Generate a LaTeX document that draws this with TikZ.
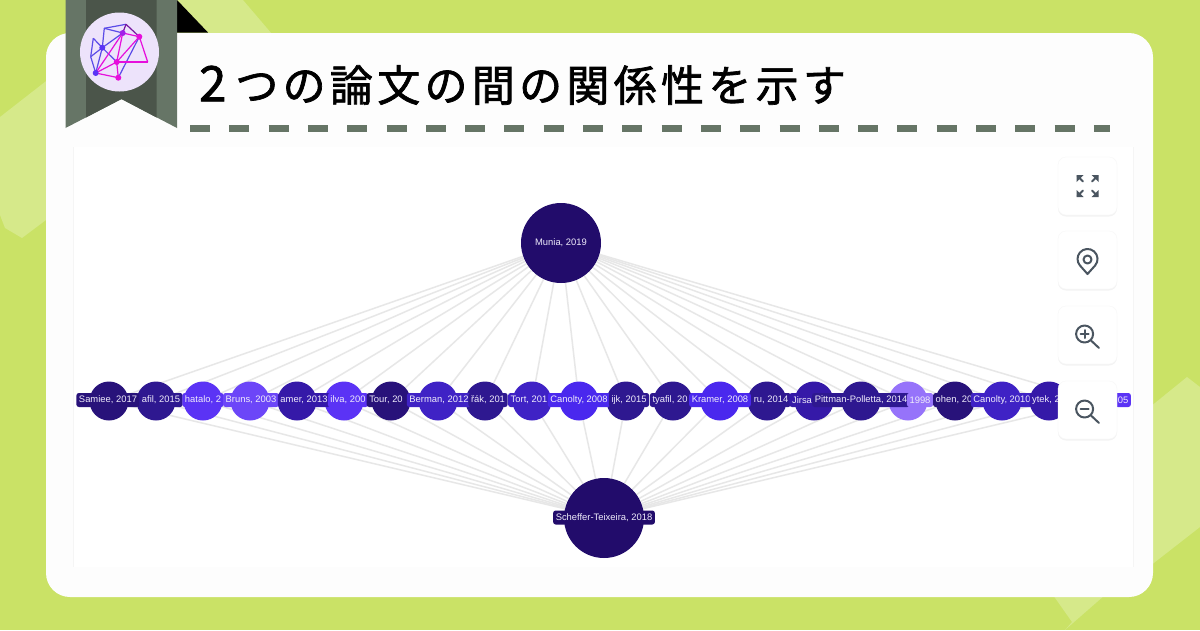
\documentclass[tikz,border=0pt]{standalone}
\usepackage{fontspec}
\setmainfont{Liberation Sans}
\newfontfamily\cjk[LetterSpace=10,FakeBold=1.6]{Noto Sans CJK JP}
\usetikzlibrary{shadows}
\definecolor{pagegreen}{HTML}{CAE266}
\definecolor{stripegreen}{HTML}{D6E98A}
\definecolor{cardwhite}{HTML}{FDFDFD}
\definecolor{ribbonout}{HTML}{667566}
\definecolor{ribbonin}{HTML}{4B554A}
\definecolor{logoback}{HTML}{EDE3FB}
\definecolor{logoblue}{HTML}{5B4BE8}
\definecolor{logopink}{HTML}{E60FDC}
\definecolor{edgegrey}{HTML}{E7E7E7}
\definecolor{icongrey}{HTML}{4A5560}
\definecolor{labelwhite}{HTML}{EFECFB}
\definecolor{vA}{HTML}{28127A}
\definecolor{vB}{HTML}{2E1890}
\definecolor{vC}{HTML}{3519A8}
\definecolor{vD}{HTML}{3F22C5}
\definecolor{vE}{HTML}{4A28EE}
\definecolor{vF}{HTML}{5B33F5}
\definecolor{vG}{HTML}{6C46F8}
\definecolor{vH}{HTML}{9673FA}
\definecolor{vtop}{HTML}{220C6B}
\pgfdeclarelayer{front}
\pgfsetlayers{main,front}
\tikzset{
	paper/.style={circle, inner sep=0pt, minimum size=39pt},
	bigpaper/.style={circle, inner sep=0pt, minimum size=80pt, fill=vtop},
	paperlabel/.style={rounded corners=2.5pt, inner sep=0pt, inner xsep=2.6pt, minimum height=14pt, text=labelwhite, font=\fontsize{9.4}{10}\selectfont},
	toolbutton/.style={rounded corners=8pt, fill=white, draw=black!3, minimum width=59pt, minimum height=58pt, inner sep=0pt, drop shadow={shadow xshift=0pt, shadow yshift=-1.5pt, opacity=0.1, fill=black!45}},
	toolicon/.style={draw=icongrey, line width=2pt, line cap=round, line join=round},
	logoline/.style={line width=1.2pt},
	logodot/.style={circle, inner sep=0pt, minimum size=6pt}
}
\begin{document}
\begin{tikzpicture}[x=1pt, y=-1pt]
	\useasboundingbox (0,0) rectangle (1200,630);
	\fill[pagegreen] (0,0) rectangle (1200,630);
	\fill[stripegreen] (170,0) -- (243,0) -- (272,34) -- (170,34) -- cycle;
	\fill[stripegreen] (0,117) -- (50,78) -- (50,217) -- (22,238) -- (5,228) -- (0,215) -- cycle;
	\fill[stripegreen] (1150,407) -- (1187,377) -- (1200,387) -- (1200,527) -- (1150,566) -- cycle;
	\fill[stripegreen] (1053,595) -- (1072,622) -- (1065,630) -- (1105,595) -- cycle;
	\fill[cardwhite, rounded corners=24pt] (46,33) rectangle (1153,597);
	\fill[white] (74,147) rectangle (1133,567);
	\draw[black!4, line width=1.5pt] (73.5,147) -- (73.5,567);
	\draw[black!4, line width=1.5pt] (1133.5,147) -- (1133.5,567);
	\fill[black] (177,0) -- (208,32.5) -- (177,32.5) -- cycle;
	\fill[ribbonout] (65.5,0) -- (177,0) -- (177,128) -- (121.5,99) -- (65.5,128) -- cycle;
	\fill[ribbonin] (86,0) -- (156.5,0) -- (156.5,117.5) -- (121.5,99) -- (86,117.5) -- cycle;
	\fill[logoback] (119.5,52) circle[radius=39.5];
	\draw[ribbonout, line width=7pt, dash pattern=on 20pt off 19.3pt] (190,128.5) -- (1110,128.5);

	\coordinate (la) at (95.7,73);
	\coordinate (lb) at (118.3,77.7);
	\coordinate (lc) at (116.7,62);
	\coordinate (ld) at (102.3,47.7);
	\coordinate (le) at (122.7,33);
	\coordinate (lf) at (139.3,36.7);
	\coordinate (lg) at (147.7,62);
	\coordinate (lh) at (126,24.3);
	\coordinate (li) at (104.3,28.3);
	\coordinate (lj) at (93.3,38.3);
	\coordinate (lk) at (90.7,56.7);
	\foreach \a/\b in {lj/ld,lj/lk,lk/la,lk/ld,ld/le,ld/lc,li/lh,li/le,li/ld,la/ld,lb/lf} \draw[logoline, logoblue] (\a) -- (\b);
	\foreach \a/\b in {le/lh,lh/lf} \draw[logoline, violet!70!logoblue] (\a) -- (\b);
	\foreach \a/\b in {lf/lg,lg/lc,lc/lf,lc/le,lc/la,lc/lb,la/lb,le/lf,le/la} \draw[logoline, logopink] (\a) -- (\b);
	\foreach \a/\col in {la/vF,lb/logopink,lc/logopink,ld/vF,le/vF!50!logopink,lf/logopink} \node[logodot, fill=\col] at (\a){};

	\node[anchor=west, inner sep=0pt, font=\cjk\fontsize{43}{43}\selectfont] (title) at (199,85){{\fontsize{49}{49}\selectfont 2}\hspace{9pt}つの論文の間の関係性を示す};

	\begin{pgfonlayer}{front}
		\node[bigpaper] (munia) at (561,243){};
		\node[bigpaper] (scheffer) at (604,518){};
		\foreach \n/\col in {1/vA,2/vB,3/vF,4/vG,5/vC,6/vF,7/vA,8/vD,9/vB,10/vD,11/vE,12/vB,13/vB,14/vE,15/vB,16/vC,17/vB,18/vH,19/vA,20/vD,21/vC,22/vF} \node[paper, fill=\col] (p\n) at (62+47*\n,401){};
		\node[text=labelwhite, inner sep=0pt, font=\fontsize{9.4}{10}\selectfont] (munialabel) at (561,243){Munia, 2019};
		\node[paperlabel, fill=vtop] (schefferlabel) at (604,517.5){Scheffer-Teixeira, 2018};
		\foreach \n/\x/\col/\txt in {1/108/vA/{Samiee, 2017},2/161/vB/{afil, 2015},3/203/vF/{hatalo, 2},4/251/vG/{Bruns, 2003},5/304/vC/{amer, 2013},6/348/vF/{ilva, 200},7/386/vA/{Tour, 20},8/439/vD/{Berman, 2012},9/488/vB/{řák, 201},10/529/vD/{Tort, 201},11/579/vE/{Canolty, 2008},12/629/vB/{ijk, 2015},13/670/vB/{tyafil, 20},14/720/vE/{Kramer, 2008},15/771/vB/{ru, 2014},16/802/vC/{Jirsa},17/861/vB/{Pittman-Polletta, 2014},18/920/vH/{1998},19/954/vA/{ohen, 20},20/1002/vD/{Canolty, 2010},21/1046/vC/{ytek, 2},22/1123/vF/{05}} \node[paperlabel, fill=\col] (l\n) at (\x,400){\txt};

		\node[toolbutton] (fitbtn) at (1087.5,186){};
		\node[toolbutton] (locatebtn) at (1087.5,260){};
		\node[toolbutton] (zoominbtn) at (1087.5,335){};
		\node[toolbutton] (zoomoutbtn) at (1087.5,410){};
		\foreach \sx/\sy in {-1/-1,1/-1,-1/1,1/1} {
			\draw[toolicon] (1087.5+4.5*\sx,186+4.5*\sy) -- (1087.5+10*\sx,186+10*\sy);
			\fill[icongrey] (1087.5+11*\sx,186+11*\sy) -- (1087.5+4*\sx,186+11*\sy) -- (1087.5+11*\sx,186+4*\sy) -- cycle;
		}
		\draw[toolicon] (1095.2,265.4) arc[start angle=40, end angle=-220, radius=10] -- (1087.5,274) -- cycle;
		\draw[toolicon] (1087.5,259.5) circle[radius=4];
		\draw[toolicon] (1084.6,334) circle[radius=8.5];
		\draw[toolicon] (1091,340.5) -- (1099,348);
		\draw[toolicon] (1080.6,334) -- (1088.6,334);
		\draw[toolicon] (1084.6,330) -- (1084.6,338);
		\draw[toolicon] (1084.6,409) circle[radius=8.5];
		\draw[toolicon] (1091,415.5) -- (1099,423);
		\draw[toolicon] (1080.6,409) -- (1088.6,409);
	\end{pgfonlayer}

	\foreach \n in {1,...,22} {
		\draw[edgegrey, line width=1.5pt] (munia) -- (p\n);
		\draw[edgegrey, line width=1.5pt] (scheffer) -- (p\n);
	}
\end{tikzpicture}
\end{document}
